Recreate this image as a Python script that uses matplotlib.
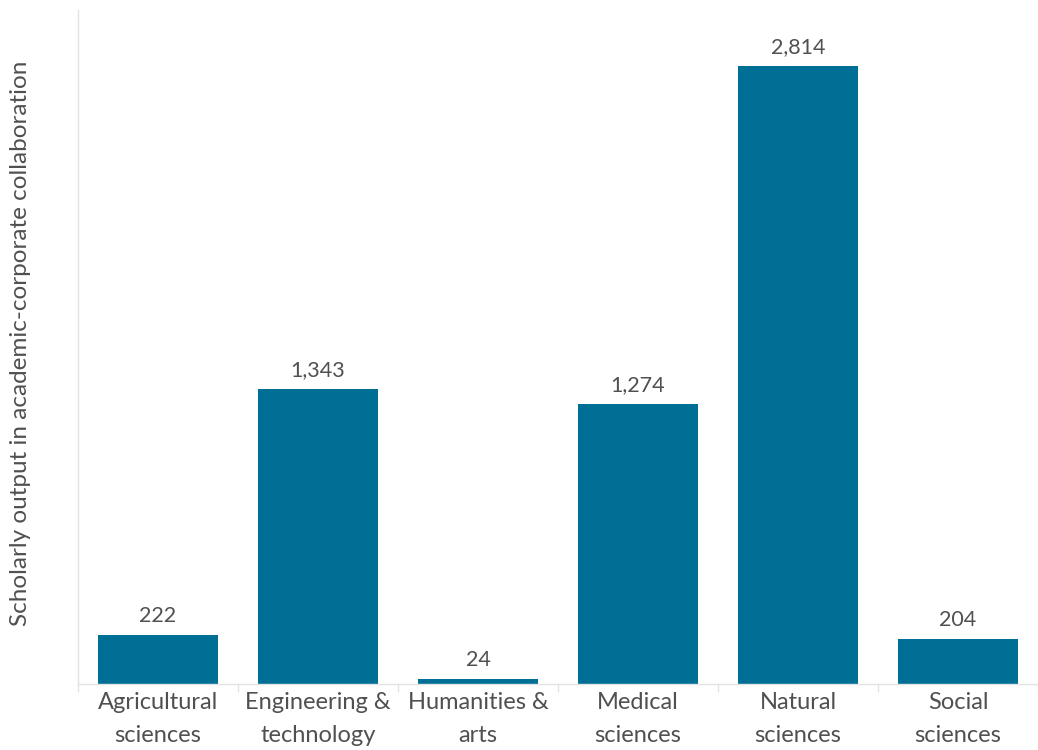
import matplotlib
matplotlib.use("Agg")
import matplotlib.pyplot as plt

plt.rcParams.update({"font.family": ["Lato", "DejaVu Sans"]})

FIELDS = ["Agricultural\nsciences", "Engineering &\ntechnology", "Humanities &\narts",
          "Medical\nsciences", "Natural\nsciences", "Social\nsciences"]
OUTPUT = [222, 1343, 24, 1274, 2814, 204]

BAR_COLOR = "#006f96"
TEXT_COLOR = "#505050"
AXIS_COLOR = "#e3e3e3"

fig = plt.figure(figsize=(10.38, 7.5), dpi=100)
ax = fig.add_axes([78 / 1038, 66 / 750, 1 - 78 / 1038, 674 / 750])

x = range(len(FIELDS))
bars = ax.bar(x, OUTPUT, width=0.75, color=BAR_COLOR)
for b, v in zip(bars, OUTPUT):
    ax.text(b.get_x() + b.get_width() / 2, v + 40, f"{v:,}", ha="center", va="bottom",
            fontsize=15.5, color=TEXT_COLOR)

ax.set_xlim(-0.5, 5.43)
ax.set_ylim(0, 3069)
ax.set_xticks(list(x))
ax.set_xticklabels(FIELDS, fontsize=17, color=TEXT_COLOR, linespacing=1.7)
ax.tick_params(axis="x", length=0, pad=6)
ax.set_xticks([i - 0.5 for i in range(len(FIELDS) + 1)], minor=True)
ax.tick_params(axis="x", which="minor", length=6, color=AXIS_COLOR, width=1)
ax.set_yticks([])

for s in ["top", "right"]:
    ax.spines[s].set_visible(False)
for s in ["left", "bottom"]:
    ax.spines[s].set_color(AXIS_COLOR)
    ax.spines[s].set_linewidth(1)

fig.text(21 / 1038, 1 - 343 / 750, "Scholarly output in academic-corporate collaboration",
         rotation=90, ha="center", va="center", fontsize=17.5, color=TEXT_COLOR)

fig.savefig("out.png", dpi=100)
